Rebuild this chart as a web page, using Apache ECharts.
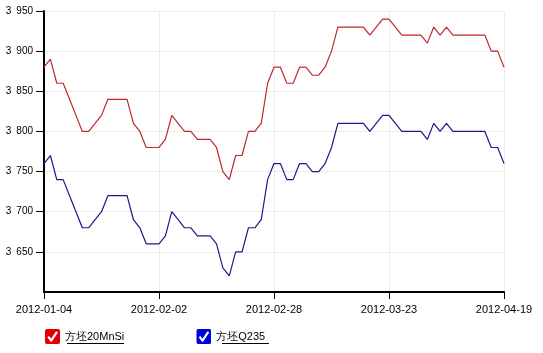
<!DOCTYPE html>
<html><head><meta charset="utf-8">
<script src="https://cdn.jsdelivr.net/npm/echarts@6/dist/echarts.min.js"></script>
<style>html,body{margin:0;padding:0;background:#fff}#c{width:543px;height:353px}</style>
</head><body><div id="c"></div>
<script>
var dates = [
 '2012-01-04','2012-01-05','2012-01-06','2012-01-09','2012-01-10','2012-01-11','2012-01-12','2012-01-13',
 '2012-01-16','2012-01-17','2012-01-18','2012-01-19','2012-01-20','2012-01-21','2012-01-29','2012-01-30',
 '2012-01-31','2012-02-01','2012-02-02','2012-02-03','2012-02-06','2012-02-07','2012-02-08','2012-02-09',
 '2012-02-10','2012-02-13','2012-02-14','2012-02-15','2012-02-16','2012-02-17','2012-02-20','2012-02-21',
 '2012-02-22','2012-02-23','2012-02-24','2012-02-27','2012-02-28','2012-02-29','2012-03-01','2012-03-02',
 '2012-03-05','2012-03-06','2012-03-07','2012-03-08','2012-03-09','2012-03-12','2012-03-13','2012-03-14',
 '2012-03-15','2012-03-16','2012-03-19','2012-03-20','2012-03-21','2012-03-22','2012-03-23','2012-03-26',
 '2012-03-27','2012-03-28','2012-03-29','2012-03-30','2012-03-31','2012-04-01','2012-04-05','2012-04-06',
 '2012-04-09','2012-04-10','2012-04-11','2012-04-12','2012-04-13','2012-04-16','2012-04-17','2012-04-18',
 '2012-04-19'
];
var seriesNames = ['方坯20MnSi', '方坯Q235'];
var mnsi = [
 3880,3890,3860,3860,3840,3820,3800,3800,3810,3820,3840,3840,3840,3840,3810,3800,3780,3780,3780,
 3790,3820,3810,3800,3800,3790,3790,3790,3780,3750,3740,3770,3770,3800,3800,3810,3860,3880,
 3880,3860,3860,3880,3880,3870,3870,3880,3900,3930,3930,3930,3930,3930,3920,3930,3940,3940,
 3930,3920,3920,3920,3920,3910,3930,3920,3930,3920,3920,3920,3920,3920,3920,3900,3900,3880
];
var q235 = [
 3760,3770,3740,3740,3720,3700,3680,3680,3690,3700,3720,3720,3720,3720,3690,3680,3660,3660,3660,
 3670,3700,3690,3680,3680,3670,3670,3670,3660,3630,3620,3650,3650,3680,3680,3690,3740,3760,
 3760,3740,3740,3760,3760,3750,3750,3760,3780,3810,3810,3810,3810,3810,3800,3810,3820,3820,
 3810,3800,3800,3800,3800,3790,3810,3800,3810,3800,3800,3800,3800,3800,3800,3780,3780,3760
];
var yTicks = [3650,3700,3750,3800,3850,3900,3950];
var lineColors = ['#c0282d', '#1a1a8a'];
var iconColors = ['#e00000', '#0000e0'];

function checkIcon(col){
  var svg = "<svg xmlns='http://www.w3.org/2000/svg' width='15' height='15' viewBox='0 0 15 15'>" +
    "<rect x='0' y='0' width='15' height='15' rx='2' ry='2' fill='" + col + "'/>" +
    "<path d='M3.2 7.6 L6.2 11.6 L12 2.8' stroke='#fff' stroke-width='2.2' fill='none' stroke-linejoin='round'/></svg>";
  return 'image://data:image/svg+xml;charset=utf-8,' + encodeURIComponent(svg);
}

var chart = echarts.init(document.getElementById('c'), null, {renderer: 'canvas'});
chart.setOption({
  animation: false,
  grid: {left: 44, right: 39, top: 11, bottom: 61, containLabel: false},
  legend: {
    left: 40, top: 324, orient: 'horizontal', itemWidth: 15, itemHeight: 15, itemGap: 72,
    textStyle: {fontFamily: 'Liberation Sans, Arial, sans-serif', fontSize: 11, color: '#000'},
    data: [
      {name: seriesNames[0], icon: checkIcon(iconColors[0])},
      {name: seriesNames[1], icon: checkIcon(iconColors[1])}
    ]
  },
  xAxis: {
    type: 'category', boundaryGap: false, data: dates,
    axisLine: {lineStyle: {color: '#000', width: 2}},
    axisTick: {interval: 17, length: 7, lineStyle: {color: '#000', width: 1}},
    axisLabel: {interval: 17, color: '#000', fontSize: 11, fontFamily: 'Liberation Sans, Arial, sans-serif', margin: 12},
    splitLine: {show: true, interval: 17, lineStyle: {color: '#ececec', width: 1}}
  },
  yAxis: {
    type: 'value', min: 3600, max: 3950, interval: 50,
    axisLine: {show: true, lineStyle: {color: '#000', width: 2}},
    axisTick: {show: true, length: 8, customValues: yTicks, lineStyle: {color: '#000', width: 1}},
    axisLabel: {
      showMinLabel: false, color: '#000', fontSize: 10, margin: 11,
      fontFamily: 'Liberation Sans, Arial, sans-serif',
      formatter: function(v){ var s = String(v); return s.slice(0, s.length - 3) + '\u2002' + s.slice(-3); }
    },
    splitLine: {show: true, lineStyle: {color: '#ececec', width: 1}}
  },
  series: [
    {name: seriesNames[0], type: 'line', data: mnsi, symbol: 'none', color: iconColors[0],
     lineStyle: {color: lineColors[0], width: 1.2}},
    {name: seriesNames[1], type: 'line', data: q235, symbol: 'none', color: iconColors[1],
     lineStyle: {color: lineColors[1], width: 1.2}}
  ],
  graphic: [
    {type: 'line', shape: {x1: 67, y1: 343.5, x2: 124, y2: 343.5}, style: {stroke: '#000', lineWidth: 1}},
    {type: 'line', shape: {x1: 222, y1: 343.5, x2: 269, y2: 343.5}, style: {stroke: '#000', lineWidth: 1}}
  ]
});
</script></body></html>
